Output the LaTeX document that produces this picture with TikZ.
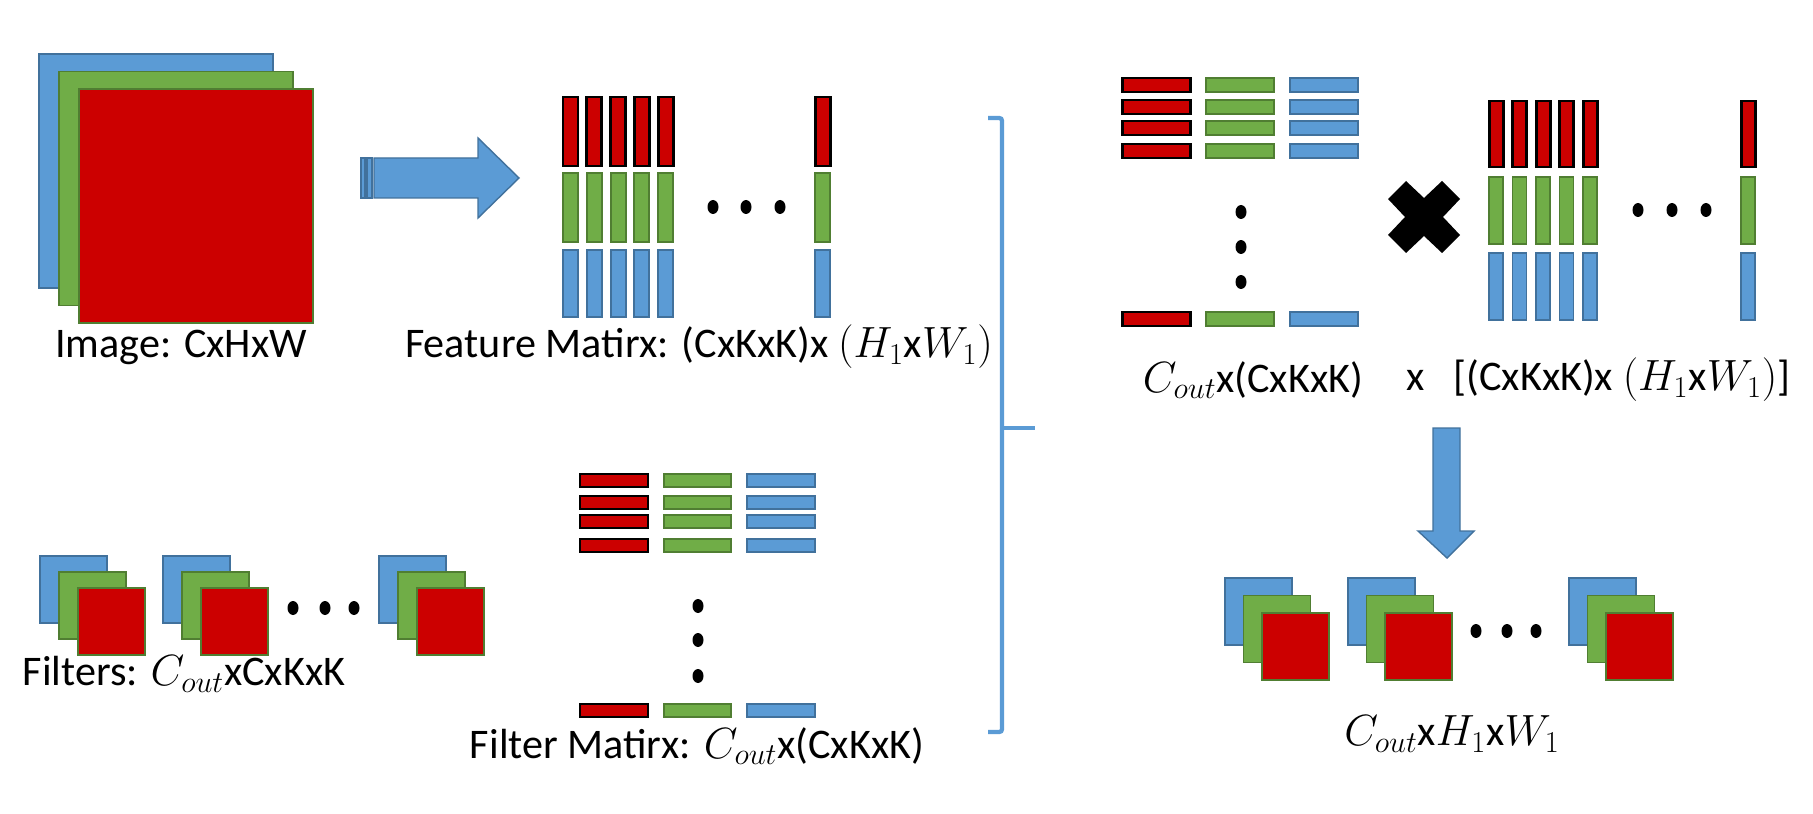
\documentclass[tikz,border=0pt]{standalone}
\usepackage{fontspec}
\setmainfont{Carlito}
\definecolor{azulc}{HTML}{5B9BD5}
\definecolor{azulb}{HTML}{41719C}
\definecolor{verdec}{HTML}{70AD47}
\definecolor{verdeb}{HTML}{507E32}
\definecolor{verm}{HTML}{CC0000}
\tikzset{
	azul/.style={fill=azulc, draw=azulb, line width=1.1pt},
	verde/.style={fill=verdec, draw=verdeb, line width=1.1pt},
	vermelho/.style={fill=verm, draw=verdeb, line width=1.1pt},
	barrav/.style={fill=verm, draw=black, line width=1.7pt},
	chave/.style={draw=azulc, line width=2.4pt},
	rotulo/.style={font=\fontsize{24}{29}\selectfont, inner sep=0pt}
}
% pilha de canais: x, y, lado, dx, dy
\newcommand{\pilha}[5]{%
	\draw[azul] (#1,#2) rectangle ++(#3,#3);
	\draw[verde] ({#1+#4},{#2+#5}) rectangle ++(#3,#3);
	\draw[vermelho] ({#1+2*#4},{#2+2*#5}) rectangle ++(#3,#3);
}
\newcommand{\ponto}[2]{\fill (#1,#2) ellipse [x radius=0.11cm, y radius=0.14cm];}
\begin{document}
\begin{tikzpicture}[x=0.02cm, y=-0.02cm]
	\useasboundingbox (0,0) rectangle (1813,814);
	
	% Imagem
	\pilha{39}{54}{234}{20}{17.5}
	\node[rotulo] (img) at (181,347) {Image: CxHxW};
	
	% Seta listrada
	\draw[azul, line width=0.8pt] (361,158) rectangle (365,198);
	\draw[azul, line width=0.8pt] (367,158) rectangle (372,198);
	\draw[azul, line width=0.8pt] (374,158) -- (478,158) -- (478,138) -- (519,178) -- (478,218) -- (478,198) -- (374,198) -- cycle;
	
	% Matriz de caracteristicas
	\foreach \i in {0,...,4}{
		\draw[barrav] ({563+23.8*\i},97) rectangle ++(15,69);
		\draw[verde] ({563+23.8*\i},173) rectangle ++(15,69);
		\draw[azul] ({563+23.8*\i},250) rectangle ++(15,67);
	}
	\draw[barrav] (815,97) rectangle ++(15,69);
	\draw[verde] (815,173) rectangle ++(15,69);
	\draw[azul] (815,250) rectangle ++(15,67);
	\foreach \x in {713,746,780}{
		\ponto{\x}{207}
	}
	\node[rotulo] (featmat) at (699,347) {Feature Matirx: (CxKxK)x $(H_1$x$W_1)$};
	
	% Filtros
	\foreach \x in {40,163,379}{
		\pilha{\x}{556}{67}{19}{16}
	}
	\foreach \x in {293,325,354}{
		\ponto{\x}{608}
	}
	\node[rotulo] (filtros) at (184,674) {Filters: $C_{out}$xCxKxK};
	
	% Matriz de filtros
	\foreach \y in {474,496,515,539,704}{
		\draw[barrav] (580,\y) rectangle ++(68,13);
		\draw[verde] (664,\y) rectangle ++(67,13);
		\draw[azul] (747,\y) rectangle ++(68,13);
	}
	\foreach \y in {606,640,676}{
		\ponto{698}{\y}
	}
	\node[rotulo] (filtmat) at (697,746) {Filter Matirx: $C_{out}$x(CxKxK)};
	
	% Chave
	\draw[chave] (988,118) -- (996,118) .. controls (1002,118) .. (1002,124) -- (1002,726) .. controls (1002,732) .. (996,732) -- (988,732);
	\draw[chave] (1002,428) -- (1035,428);
	
	% Produto: matriz de filtros
	\foreach \y in {78,100,121,144,312}{
		\draw[barrav] (1122,\y) rectangle ++(68,14);
		\draw[verde] (1206,\y) rectangle ++(68,14);
		\draw[azul] (1290,\y) rectangle ++(68,14);
	}
	\foreach \y in {212,247,282}{
		\ponto{1241}{\y}
	}
	
	% Sinal de vezes
	\begin{scope}[shift={(1424,217)}]
		\fill (0,-19) -- (18,-36) -- (36,-18) -- (19,0) -- (36,18) -- (18,36) -- (0,19) -- (-18,36) -- (-36,18) -- (-19,0) -- (-36,-18) -- (-18,-36) -- cycle;
	\end{scope}
	
	% Produto: matriz de caracteristicas
	\foreach \i in {0,...,4}{
		\draw[barrav] ({1489+23.5*\i},101) rectangle ++(14,66);
		\draw[verde] ({1489+23.5*\i},177) rectangle ++(14,67);
		\draw[azul] ({1489+23.5*\i},253) rectangle ++(14,67);
	}
	\draw[barrav] (1741,101) rectangle ++(14,66);
	\draw[verde] (1741,177) rectangle ++(14,67);
	\draw[azul] (1741,253) rectangle ++(14,67);
	\foreach \x in {1638,1672,1706}{
		\ponto{\x}{210}
	}
	
	% Rotulos do produto
	\node[rotulo] (prodA) at (1253,380) {$C_{out}$x(CxKxK)};
	\node[rotulo] (vezes) at (1416,380) {x};
	\node[rotulo] (prodB) at (1622,380) {[(CxKxK)x $(H_1$x$W_1)$]};
	
	% Seta para baixo
	\draw[azul, line width=0.8pt] (1433,428) -- (1460,428) -- (1460,531) -- (1474,531) -- (1447,558) -- (1418,531) -- (1433,531) -- cycle;
	
	% Saida
	\foreach \x in {1225,1348,1569}{
		\pilha{\x}{578}{67}{18.5}{17.5}
	}
	\foreach \x in {1476,1507,1536}{
		\ponto{\x}{631}
	}
	\node[rotulo] (saida) at (1452,734) {$C_{out}$x$H_1$x$W_1$};
\end{tikzpicture}
\end{document}
